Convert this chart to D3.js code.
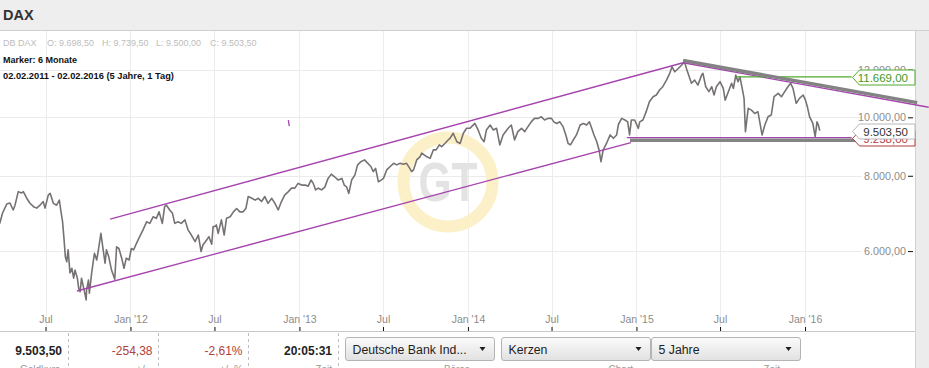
<!DOCTYPE html>
<html>
<head>
<meta charset="utf-8">
<title>DAX</title>
<script src="https://cdn.jsdelivr.net/npm/d3@7"></script>
<style>
  body { margin: 0; background: #ffffff; overflow: hidden; }
  text { font-family: Arial, "Liberation Sans", sans-serif; }
</style>
</head>
<body>
<div id="chart"></div>
<script>
// DAX closes (about one point a week)
var dax2011 = [["2011-02-02",7200],["2011-02-17",7420],["2011-03-01",7250],["2011-03-16",6650],["2011-03-24",6670],["2011-03-30",6940],
  ["2011-04-08",7180],["2011-04-15",7210],["2011-04-22",7020],["2011-04-26",7150],["2011-05-03",7530],["2011-05-10",7490],["2011-05-14",7530],
  ["2011-05-21",7350],["2011-05-28",7210],["2011-06-05",7110],["2011-06-12",7070],["2011-06-19",7150],["2011-06-26",7250],["2011-06-30",7070],
  ["2011-07-07",7430],["2011-07-11",7480],["2011-07-18",7200],["2011-07-25",7150],["2011-07-31",7290],["2011-08-03",7020],["2011-08-07",6710],
  ["2011-08-10",6300],["2011-08-13",5870],["2011-08-16",5760],["2011-08-19",6030],["2011-08-23",5520],["2011-08-27",5620],["2011-08-31",5410],
  ["2011-09-03",5580],["2011-09-08",5410],["2011-09-11",5200],["2011-09-14",5140],["2011-09-17",5410],["2011-09-21",5240],["2011-09-25",5070],
  ["2011-09-27",4980],["2011-09-28",5170],["2011-10-02",5370],["2011-10-04",5110],["2011-10-09",5520],["2011-10-15",5950],["2011-10-20",5800],
  ["2011-10-23",5990],["2011-10-29",6420],["2011-11-02",6100],["2011-11-07",5730],["2011-11-10",6030],["2011-11-15",5870],["2011-11-21",5580],
  ["2011-11-28",5390],["2011-12-02",6100],["2011-12-07",6060],["2011-12-13",5840],["2011-12-18",5620],["2011-12-23",5840],["2011-12-29",5800]];

var dax2012 = [["2012-01-03",6060],["2012-01-08",6030],["2012-01-14",6180],["2012-01-21",6340],["2012-01-28",6500],["2012-02-05",6710],
  ["2012-02-12",6670],["2012-02-19",6840],["2012-02-26",6800],["2012-03-03",6970],["2012-03-10",6670],["2012-03-15",7110],["2012-03-19",7150],
  ["2012-03-26",7020],["2012-04-01",6930],["2012-04-06",6670],["2012-04-13",6710],["2012-04-20",6670],["2012-04-28",6760],["2012-05-05",6500],
  ["2012-05-12",6380],["2012-05-20",6220],["2012-05-27",6380],["2012-06-02",5990],["2012-06-06",6140],["2012-06-14",6260],["2012-06-19",6340],
  ["2012-06-25",6160],["2012-06-28",6590],["2012-07-02",6590],["2012-07-05",6630],["2012-07-09",6420],["2012-07-16",6760],["2012-07-22",6380],
  ["2012-07-27",6800],["2012-08-04",6840],["2012-08-11",6970],["2012-08-18",7060],["2012-08-25",6970],["2012-09-01",6970],["2012-09-07",7060],
  ["2012-09-12",7390],["2012-09-20",7340],["2012-09-27",7290],["2012-10-04",7340],["2012-10-11",7250],["2012-10-18",7390],["2012-10-25",7200],
  ["2012-11-02",7340],["2012-11-09",7200],["2012-11-16",7020],["2012-11-23",7250],["2012-11-30",7430],["2012-12-08",7530],["2012-12-15",7630],
  ["2012-12-22",7630],["2012-12-29",7770]];

var dax2013 = [["2013-01-06",7720],["2013-01-13",7720],["2013-01-20",7690],["2013-01-26",7870],["2013-01-31",7770],["2013-02-05",7580],
  ["2013-02-11",7630],["2013-02-18",7580],["2013-02-25",7660],["2013-03-04",7920],["2013-03-11",8050],["2013-03-18",7970],["2013-03-26",7870],
  ["2013-04-03",7920],["2013-04-08",7720],["2013-04-13",7670],["2013-04-18",7480],["2013-04-24",7870],["2013-05-01",8020],["2013-05-07",8340],
  ["2013-05-14",8440],["2013-05-22",8500],["2013-05-29",8390],["2013-06-05",8280],["2013-06-10",8130],["2013-06-15",8230],["2013-06-21",7820],
  ["2013-06-27",7870],["2013-07-02",7920],["2013-07-09",8180],["2013-07-16",8280],["2013-07-24",8390],["2013-07-31",8340],["2013-08-07",8390],
  ["2013-08-14",8360],["2013-08-21",8390],["2013-08-28",8230],["2013-09-01",8130],["2013-09-05",8180],["2013-09-12",8500],["2013-09-19",8600],
  ["2013-09-23",8720],["2013-10-04",8600],["2013-10-11",8550],["2013-10-18",8830],["2013-10-24",8830],["2013-10-31",9000],["2013-11-05",8940],
  ["2013-11-12",9050],["2013-11-19",9170],["2013-11-23",9230],["2013-11-30",9410],["2013-12-08",9110],["2013-12-15",9050],["2013-12-22",9410],
  ["2013-12-29",9590]];

var dax2014 = [["2014-01-05",9590],["2014-01-16",9770],["2014-01-23",9530],["2014-01-30",9230],["2014-02-05",9110],["2014-02-10",9530],
  ["2014-02-18",9710],["2014-02-25",9530],["2014-03-04",9590],["2014-03-11",9000],["2014-03-18",9350],["2014-03-29",9590],["2014-04-05",9710],
  ["2014-04-12",9170],["2014-04-19",9470],["2014-04-27",9590],["2014-05-04",9470],["2014-05-11",9650],["2014-05-18",9830],["2014-05-25",9960],
  ["2014-06-02",9960],["2014-06-09",10020],["2014-06-16",9900],["2014-06-23",9960],["2014-07-01",9960],["2014-07-06",9830],["2014-07-12",9770],
  ["2014-07-19",9830],["2014-07-26",9650],["2014-08-01",9350],["2014-08-06",9050],["2014-08-11",9000],["2014-08-17",9170],["2014-08-24",9350],
  ["2014-09-01",9710],["2014-09-08",9770],["2014-09-15",9710],["2014-09-21",9830],["2014-09-26",9590],["2014-10-01",9350],["2014-10-07",9110],
  ["2014-10-12",8830],["2014-10-16",8440],["2014-10-21",8830],["2014-10-28",9050],["2014-11-05",9350],["2014-11-12",9230],["2014-11-19",9350],
  ["2014-11-23",9740],["2014-11-30",9960],["2014-12-07",9900],["2014-12-13",9830],["2014-12-17",9350],["2014-12-21",9900],["2014-12-28",9900]];

var dax2015 = [["2015-01-05",9590],["2015-01-08",9830],["2015-01-15",9900],["2015-01-22",10220],["2015-01-29",10610],["2015-02-06",10820],
  ["2015-02-13",10890],["2015-02-20",11100],["2015-02-27",11240],["2015-03-07",11530],["2015-03-14",11830],["2015-03-19",12130],["2015-03-25",11900],
  ["2015-04-02",12060],["2015-04-09",12210],["2015-04-15",12370],["2015-04-19",12060],["2015-04-24",11750],["2015-04-30",11390],["2015-05-07",11530],
  ["2015-05-14",11310],["2015-05-22",11750],["2015-05-25",11830],["2015-05-31",11240],["2015-06-07",11030],["2015-06-13",11240],["2015-06-18",10890],
  ["2015-06-23",11240],["2015-07-01",11460],["2015-07-08",11170],["2015-07-12",10680],["2015-07-19",11030],["2015-07-26",11390],["2015-07-30",11170],
  ["2015-08-04",11750],["2015-08-09",11460],["2015-08-13",11670],["2015-08-18",11170],["2015-08-22",10750],["2015-08-25",9470],["2015-08-31",10350],
  ["2015-09-07",10280],["2015-09-14",10150],["2015-09-21",10220],["2015-09-25",9830],["2015-09-30",9350],["2015-10-06",9710],["2015-10-13",10020],
  ["2015-10-20",10090],["2015-10-26",10820],["2015-11-04",10960],["2015-11-11",10820],["2015-11-18",11030],["2015-11-25",11240],["2015-12-01",11390],
  ["2015-12-06",11170],["2015-12-13",10550],["2015-12-20",10750],["2015-12-28",10890]];

var dax2016 = [["2016-01-02",10680],["2016-01-06",10420],["2016-01-11",10020],["2016-01-18",9770],["2016-01-23",9290],["2016-01-27",9830],
  ["2016-01-30",9710],["2016-02-02",9504]];

var xTickDates = ["2011-07-01","2012-01-01","2012-07-01","2013-01-01","2013-07-01","2014-01-01","2014-07-01","2015-01-01","2015-07-01","2016-01-01"];
var xTickLabels = ["Jul","Jan '12","Jul","Jan '13","Jul","Jan '14","Jul","Jan '15","Jul","Jan '16"];
var yTickValues = [6000, 8000, 10000, 12000];

// drawn trend lines: [date, level]
var channelUpper = [["2011-11-18",6782],["2015-04-12",12318]];
var channelLower = [["2011-09-07",5152],["2014-12-20",9083]];
var resistLine = [["2015-04-12",12318],["2016-09-25",10393]];
var resistBand = [["2015-04-12",12420],["2016-08-31",10577]];
var supportLine = [["2014-12-11",9258],["2016-04-11",9258]];
var supportBand = [["2014-12-18",9159],["2016-05-10",9159]];
var markerLine = [["2015-08-06",11669],["2016-04-11",11669]];
var strayStroke = [["2012-12-08",9897],["2012-12-10",9673]];

var ohlcKeys = ["O","H","L","C"];
var ohlcValues = [9698.5, 9739.5, 9500.0, 9503.5];
var lastPrice = 9503.5, priceChange = -254.38, pctChange = -2.61, quoteTime = "20:05:31";
var markerLevel = 11669, supportLevel = 9258;
var dropdowns = ["Deutsche Bank Ind...", "Kerzen", "5 Jahre"];
var footLabels = ["Geldkurs", "+/-", "+/- %", "Zeit", "Börse", "Chart", "Zeit"];

var svgWidth = 929;
var svgHeight = 368;
var plot = {left: 0, right: 915, top: 31, bottom: 331};

var de = d3.formatLocale({decimal: ",", thousands: ".", grouping: [3], currency: ["", ""], minus: "-"});
var fmt = de.format(",.2f");
var parseDate = d3.timeParse("%Y-%m-%d");

var daxData = [].concat(dax2011, dax2012, dax2013, dax2014, dax2015, dax2016)
                .map(d => ({date: parseDate(d[0]), close: d[1]}));

var xScale = d3.scaleTime()
               .domain([parseDate("2011-07-01"), parseDate("2016-01-01")])
               .range([45.5, 805]);

var yScale = d3.scaleLog()
               .domain([6000, 12000])
               .range([251.1, 69.6]);

var svg = d3.select("#chart").append("svg")
            .attr("width", svgWidth)
            .attr("height", svgHeight);

var defs = svg.append("defs");
defs.append("clipPath").attr("id", "plotClip")
    .append("rect")
    .attr("x", 0).attr("y", plot.top)
    .attr("width", svgWidth).attr("height", plot.bottom - plot.top);

var grad = defs.append("linearGradient").attr("id", "btnGrad")
               .attr("x1", 0).attr("y1", 0).attr("x2", 0).attr("y2", 1);
grad.append("stop").attr("offset", "0%").attr("stop-color", "#fbfbfb");
grad.append("stop").attr("offset", "100%").attr("stop-color", "#e1e1e1");

svg.append("rect").attr("width", svgWidth).attr("height", svgHeight).attr("fill", "#ffffff");

// right strip
svg.append("rect")
   .attr("x", plot.right).attr("y", 0)
   .attr("width", svgWidth - plot.right).attr("height", svgHeight)
   .attr("fill", "#ececec");
svg.append("line")
   .attr("x1", plot.right + 0.5).attr("x2", plot.right + 0.5)
   .attr("y1", 0).attr("y2", svgHeight)
   .attr("stroke", "#d2d2d2");

// grid
var gridGroup = svg.append("g");
gridGroup.selectAll(".vgrid")
         .data(xTickDates)
         .enter()
         .append("line")
         .attr("x1", d => Math.round(xScale(parseDate(d))) + 0.5)
         .attr("x2", d => Math.round(xScale(parseDate(d))) + 0.5)
         .attr("y1", plot.top)
         .attr("y2", plot.bottom)
         .attr("stroke", "#ececec");

gridGroup.selectAll(".hgrid")
         .data(yTickValues)
         .enter()
         .append("line")
         .attr("x1", 0)
         .attr("x2", 862)
         .attr("y1", d => Math.round(yScale(d)) + 0.5)
         .attr("y2", d => Math.round(yScale(d)) + 0.5)
         .attr("stroke", "#ebebeb");

// watermark
var mark = svg.append("g");
mark.append("circle")
    .attr("cx", 448).attr("cy", 182).attr("r", 44.5)
    .attr("fill", "none")
    .attr("stroke", "#fcf0c8")
    .attr("stroke-width", 12);
mark.append("text")
    .attr("x", 448).attr("y", 201)
    .attr("text-anchor", "middle")
    .attr("font-size", 56)
    .attr("font-weight", "bold")
    .attr("textLength", 59)
    .attr("lengthAdjust", "spacingAndGlyphs")
    .attr("fill", "#e3e3e3")
    .text("GT");

var chartGroup = svg.append("g").attr("clip-path", "url(#plotClip)");

var priceLine = d3.line()
                  .x(d => xScale(d.date))
                  .y(d => yScale(d.close));

chartGroup.append("path")
          .datum(daxData)
          .attr("d", priceLine)
          .attr("fill", "none")
          .attr("stroke", "#777272")
          .attr("stroke-width", 1.6)
          .attr("stroke-linejoin", "round");

var trendLine = d3.line()
                  .x(d => xScale(parseDate(d[0])))
                  .y(d => yScale(d[1]));

[channelUpper, channelLower, resistLine, supportLine, strayStroke].forEach(function(seg) {
  chartGroup.append("path")
            .attr("d", trendLine(seg))
            .attr("fill", "none")
            .attr("stroke", "#a544ad")
            .attr("stroke-width", 1.3);
});

chartGroup.append("path")
          .attr("d", trendLine(markerLine))
          .attr("fill", "none")
          .attr("stroke", "#4ea82e")
          .attr("stroke-width", 1.3);

[resistBand, supportBand].forEach(function(seg) {
  chartGroup.append("path")
            .attr("d", trendLine(seg))
            .attr("fill", "none")
            .attr("stroke", "#838383")
            .attr("stroke-width", 3.5);
});

// axes
var leftAxis = d3.axisLeft(yScale)
                 .tickValues(yTickValues)
                 .tickFormat(fmt)
                 .tickSize(5)
                 .tickPadding(2);

svg.append("g")
   .attr("transform", "translate(913,0)")
   .call(leftAxis)
   .call(g => g.select(".domain").remove())
   .call(g => g.selectAll(".tick line").attr("stroke", "#111"))
   .call(g => g.selectAll("text").attr("fill", "#8c8c8c"))
   .attr("font-family", "Arial, 'Liberation Sans', sans-serif")
   .attr("font-size", 10.8);

var bottomAxis = d3.axisTop(xScale)
                   .tickValues(xTickDates.map(parseDate))
                   .tickFormat((d, i) => xTickLabels[i])
                   .tickSize(4)
                   .tickPadding(4);

svg.append("g")
   .attr("transform", `translate(0,${plot.bottom})`)
   .call(bottomAxis)
   .call(g => g.select(".domain").remove())
   .call(g => g.selectAll(".tick line").attr("stroke", "#111"))
   .call(g => g.selectAll("text").attr("fill", "#8c8c8c"))
   .attr("font-family", "Arial, 'Liberation Sans', sans-serif")
   .attr("font-size", 10.5);

// price labels on the right
function priceTag(value, color, textColor) {
  var tipX = Math.round(xScale(parseDate("2016-04-11"))) + 0.5;
  var y = Math.round(yScale(value)) + 0.5;
  var g = svg.append("g");
  g.append("path")
   .attr("d", `M${tipX},${y} L${tipX + 7},${y - 7.5} L${plot.right},${y - 7.5} L${plot.right},${y + 7.5} L${tipX + 7},${y + 7.5} Z`)
   .attr("fill", "#ffffff")
   .attr("stroke", color);
  g.append("text")
   .attr("x", 908)
   .attr("y", y)
   .attr("dy", "0.36em")
   .attr("text-anchor", "end")
   .attr("font-size", 11.5)
   .attr("fill", textColor)
   .text(fmt(value));
}

priceTag(supportLevel, "#b33a3a", "#b33a3a");
priceTag(lastPrice, "#b8b8b8", "#333333");
priceTag(markerLevel, "#4ea82e", "#3f9a26");

// header
svg.append("rect")
   .attr("width", svgWidth).attr("height", 30)
   .attr("fill", "#eeeeee");
svg.append("line")
   .attr("x1", 0).attr("x2", svgWidth)
   .attr("y1", 30.5).attr("y2", 30.5)
   .attr("stroke", "#cfcfcf");
svg.append("text")
   .attr("x", 3).attr("y", 20)
   .attr("font-size", 14.5)
   .attr("font-weight", "bold")
   .attr("fill", "#333")
   .text("DAX");

var infoX = [47, 102, 156, 210];
svg.append("text")
   .attr("x", 3).attr("y", 46)
   .attr("font-size", 9)
   .attr("fill", "#bdbdbd")
   .text("DB DAX");
svg.selectAll(".ohlc")
   .data(ohlcKeys)
   .enter()
   .append("text")
   .attr("x", (d, i) => infoX[i])
   .attr("y", 46)
   .attr("font-size", 9)
   .attr("fill", "#bdbdbd")
   .text((d, i) => `${d}: ${fmt(ohlcValues[i])}`);

svg.append("text")
   .attr("x", 3).attr("y", 63)
   .attr("font-size", 9)
   .attr("font-weight", "bold")
   .attr("fill", "#111")
   .text("Marker: 6 Monate");
svg.append("text")
   .attr("x", 3).attr("y", 79)
   .attr("font-size", 9.3)
   .attr("font-weight", "bold")
   .attr("fill", "#111")
   .text("02.02.2011 - 02.02.2016 (5 Jahre, 1 Tag)");

// bottom quote bar
svg.append("line")
   .attr("x1", 0).attr("x2", plot.right)
   .attr("y1", plot.bottom + 0.5).attr("y2", plot.bottom + 0.5)
   .attr("stroke", "#c8c8c8");

var quoteCells = [
  {text: fmt(lastPrice), right: 62, bold: true, color: "#222"},
  {text: fmt(priceChange), right: 152.5, bold: false, color: "#b0403a"},
  {text: fmt(pctChange) + "%", right: 242.5, bold: false, color: "#b0403a"},
  {text: quoteTime, right: 332, bold: true, color: "#222"}
];

svg.selectAll(".quote")
   .data(quoteCells)
   .enter()
   .append("text")
   .attr("x", d => d.right)
   .attr("y", 355)
   .attr("text-anchor", "end")
   .attr("font-size", 12)
   .attr("font-weight", d => d.bold ? "bold" : "normal")
   .attr("fill", d => d.color)
   .text(d => d.text);

svg.selectAll(".sep")
   .data([68.5, 158.5, 248.5, 338.5])
   .enter()
   .append("line")
   .attr("x1", d => d).attr("x2", d => d)
   .attr("y1", plot.bottom + 2).attr("y2", svgHeight)
   .attr("stroke", "#bdbdbd")
   .attr("stroke-dasharray", "3,3");

var btnX = [345, 501, 651];
var btnW = 149;
var btn = svg.selectAll(".btn")
             .data(dropdowns)
             .enter()
             .append("g")
             .attr("transform", (d, i) => `translate(${btnX[i] + 0.5},337.5)`);
btn.append("rect")
   .attr("width", btnW).attr("height", 23)
   .attr("rx", 2.5)
   .attr("fill", "url(#btnGrad)")
   .attr("stroke", "#b4b4b4");
btn.append("text")
   .attr("x", 7).attr("y", 16)
   .attr("font-size", 12.3)
   .attr("fill", "#1e1e1e")
   .text(d => d);
btn.append("path")
   .attr("d", `M${btnW - 15},9.5 L${btnW - 9},9.5 L${btnW - 12},13.5 Z`)
   .attr("fill", "#1e1e1e");

var footRight = [60, 148, 243, 332, 470, 633, 780];
svg.selectAll(".foot")
   .data(footLabels)
   .enter()
   .append("text")
   .attr("x", (d, i) => footRight[i])
   .attr("y", 372.5)
   .attr("text-anchor", "end")
   .attr("font-size", 10)
   .attr("fill", "#9a9a9a")
   .text(d => d);
</script>
</body>
</html>
